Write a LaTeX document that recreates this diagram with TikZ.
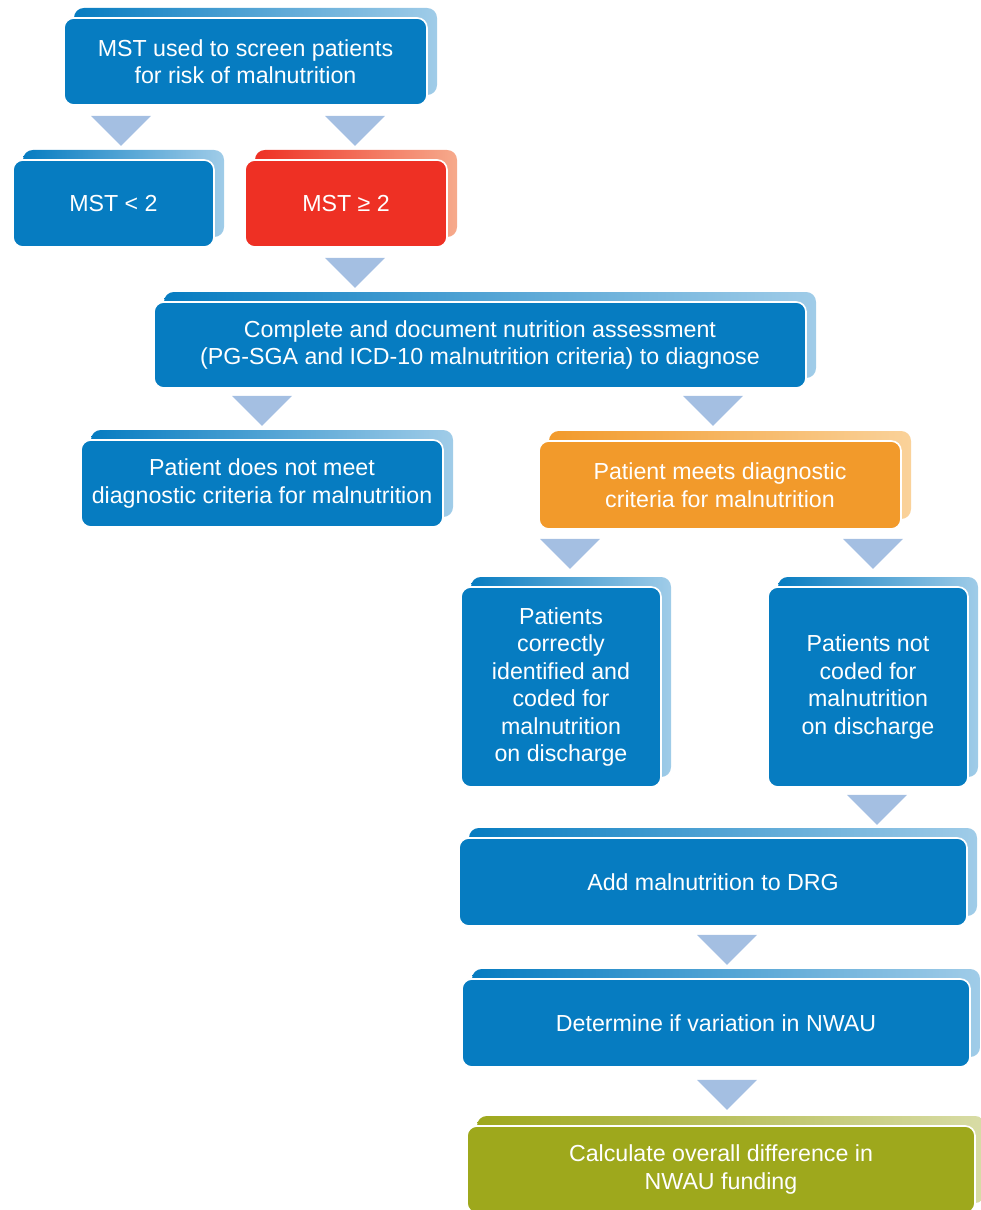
\documentclass[tikz,border=0pt]{standalone}
\usepackage{fontspec}
\setmainfont{Liberation Sans}
\usetikzlibrary{shadows}
\definecolor{mstblue}{RGB}{6,124,193}
\definecolor{mstblueL}{RGB}{160,204,232}
\definecolor{mstred}{RGB}{238,48,36}
\definecolor{mstredL}{RGB}{246,170,140}
\definecolor{mstorange}{RGB}{242,154,43}
\definecolor{mstorangeL}{RGB}{250,210,154}
\definecolor{mstolive}{RGB}{158,168,28}
\definecolor{mstoliveL}{RGB}{216,220,166}
\definecolor{tripale}{RGB}{164,191,226}
% triangle below a box: node, x position, gap
\newcommand{\downtri}[3]{\fill[tri] (#2,0 |- #1.south) ++(-30,#3) -- ++(60,0) -- ++(-30,30) -- cycle;}
\begin{document}
\begin{tikzpicture}[x=0.025cm, y=-0.025cm,
  box/.style={rounded corners=7pt, draw=white, line width=1.2pt, text=white, align=center,
    font=\fontsize{16.5}{19.5}\selectfont, inner sep=0pt},
  back/.style 2 args={general shadow={shadow xshift=0.25cm, shadow yshift=0.25cm, draw=none, left color=#1, right color=#2}},
  boxsize/.style 2 args={minimum width=#1*0.025cm, minimum height=#2*0.025cm},
  bluebox/.style={box, back={mstblue}{mstblueL}, fill=mstblue},
  redbox/.style={box, back={mstred}{mstredL}, fill=mstred},
  orangebox/.style={box, back={mstorange}{mstorangeL}, fill=mstorange},
  olivebox/.style={box, back={mstolive}{mstoliveL}, fill=mstolive},
  tri/.style={fill=tripale}]
\useasboundingbox (0,0) rectangle (980,1210);

\node[bluebox, boxsize={363}{87}] (screen) at (245.5,61.5) {MST used to screen patients\\for risk of malnutrition};
\node[bluebox, boxsize={201}{87}] (low) at (113.5,203.5) {MST < 2};
\node[redbox, boxsize={202}{87}] (high) at (346,203.5) {MST ≥ 2};
\node[bluebox, boxsize={652}{86}] (assess) at (480,345) {Complete and document nutrition assessment\\(PG-SGA and ICD-10 malnutrition criteria) to diagnose};
\node[bluebox, boxsize={362}{87}] (notmeet) at (262,483.5) {Patient does not meet\\diagnostic criteria for malnutrition};
\node[orangebox, boxsize={362}{88}] (meets) at (720,485) {Patient meets diagnostic\\criteria for malnutrition};
\node[bluebox, boxsize={200}{200}] (coded) at (561,687) {Patients\\correctly\\identified and\\coded for\\malnutrition\\on discharge};
\node[bluebox, boxsize={200}{200}] (notcoded) at (868,687) {Patients not\\coded for\\malnutrition\\on discharge};
\node[bluebox, boxsize={508}{88}] (drg) at (713,882) {Add malnutrition to DRG};
\node[bluebox, boxsize={508}{88}] (nwau) at (716,1023) {Determine if variation in NWAU};
\node[olivebox, boxsize={508}{87}] (funding) at (721,1169.5) {Calculate overall difference in\\NWAU funding};

\downtri{screen}{121}{10}
\downtri{screen}{355}{10}
\downtri{high}{355}{10}
\downtri{assess}{262}{7}
\downtri{assess}{713}{7}
\downtri{meets}{570}{9}
\downtri{meets}{873}{9}
\downtri{notcoded}{877}{7}
\downtri{drg}{727}{8}
\downtri{nwau}{727}{12}
\end{tikzpicture}
\end{document}
